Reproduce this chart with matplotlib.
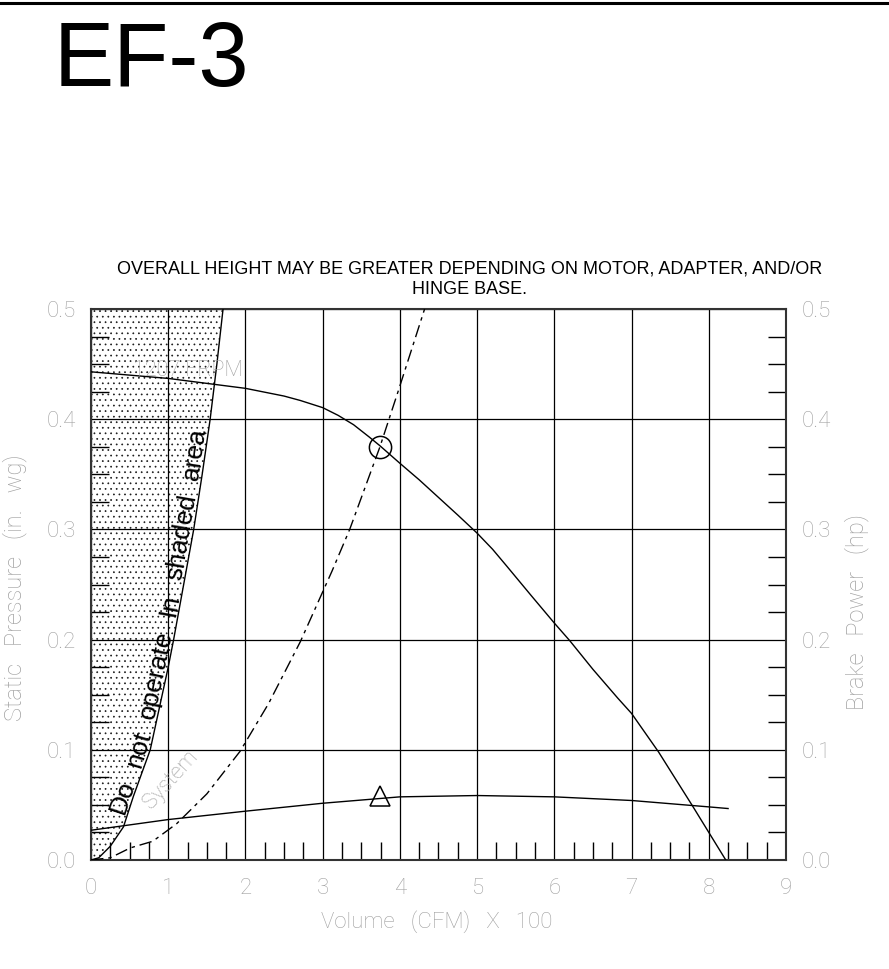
import matplotlib
matplotlib.use('Agg')
import numpy as np
import matplotlib.pyplot as plt
from matplotlib.lines import Line2D
from matplotlib.ticker import MultipleLocator, FixedLocator

# ---------------- data ----------------
fan_cfm = [0, 1, 2, 2.5, 2.71, 3.0, 3.2, 3.4, 3.6, 3.74, 4.0, 4.25, 4.5, 4.75, 5.0, 5.2, 5.38,
           5.7, 6.0, 6.2, 6.5, 6.82, 7.0, 7.23, 7.35, 7.79, 8.22]
fan_sp = [0.443, 0.437, 0.428, 0.421, 0.417, 0.4105, 0.4035, 0.395, 0.384, 0.376, 0.360, 0.345,
          0.329, 0.313, 0.2966, 0.282, 0.267, 0.240, 0.215, 0.199, 0.173, 0.147, 0.133, 0.110,
          0.098, 0.049, 0.0]

bhp_cfm = [0, 1, 2, 2.71, 3, 4, 5, 6, 7, 8, 8.25]
bhp_hp = [0.027, 0.0367, 0.0443, 0.0494, 0.0515, 0.0573, 0.0585, 0.0573, 0.054, 0.0482, 0.0467]

sys_cfm = [0, 0.25, 0.51, 0.8, 1.11, 1.5, 1.93, 2.3, 2.71, 3.12, 3.35, 3.74, 3.99, 4.32]
sys_sp = [0, 0.002, 0.011, 0.017, 0.033, 0.060, 0.0986, 0.142, 0.198, 0.262, 0.300, 0.3746, 0.428, 0.500]

stall_cfm = [0, 0.1, 0.25, 0.42, 0.55, 0.767, 1.0, 1.07, 1.2, 1.33, 1.44, 1.543, 1.63, 1.71]
stall_sp = [0, 0.002, 0.0125, 0.030, 0.058, 0.100, 0.175, 0.200, 0.250, 0.300, 0.350, 0.400, 0.450, 0.500]

op_cfm = [3.74]
op_sp = [0.3746]
op_hp = [0.0579]

x_ticks = [0, 1, 2, 3, 4, 5, 6, 7, 8, 9]
x_tick_labels = ['0', '1', '2', '3', '4', '5', '6', '7', '8', '9']
y_ticks = [0.0, 0.1, 0.2, 0.3, 0.4, 0.5]
y_tick_labels = ['0.0', '0.1', '0.2', '0.3', '0.4', '0.5']

warn_words = ['Do', 'not', 'operate', 'In', 'shaded', 'area']
warn_start_sp = 0.040

title = 'EF-3'
note = 'OVERALL HEIGHT MAY BE GREATER DEPENDING ON MOTOR, ADAPTER, AND/OR\nHINGE BASE.'
rpm_label = '1207 FRPM'
system_label = 'System'
ylabel_left = 'Static   Pressure   (in.   wg)'
ylabel_right = 'Brake   Power   (hp)'
xlabel = 'Volume   (CFM)   X   100'

# ---------------- figure ----------------
W, H = 889, 969
fig = plt.figure(figsize=(W / 100, H / 100), dpi=100)
fig.patch.set_facecolor('white')

GRAY = '#a0a0a0'
LIGHT_FAM = ['Roboto', 'DejaVu Sans']

# top rule
fig.add_artist(Line2D([0, 1], [1 - 2.5 / H, 1 - 2.5 / H], transform=fig.transFigure,
                      color='black', lw=2.2))

fig.text(54 / W, 1 - 86 / H, title, fontsize=65, family='Liberation Sans',
         ha='left', va='baseline', color='black')
fig.text(470 / W, 1 - 294 / H, note, fontsize=13, family='Liberation Sans',
         ha='center', va='baseline', color='black', linespacing=1.3, multialignment='center')

left, right, top, bottom = 91, 786, 309, 860
ax = fig.add_axes([left / W, 1 - bottom / H, (right - left) / W, (bottom - top) / H])
ax.set_xlim(0, 9)
ax.set_ylim(0, 0.5)

plt.rcParams['hatch.linewidth'] = 0.5
ax.fill_betweenx(stall_sp, 0, stall_cfm, facecolor='none', edgecolor='#1a1a1a',
                 hatch='...', linewidth=0, zorder=1)

ax.xaxis.set_major_locator(FixedLocator(x_ticks))
ax.set_xticklabels(x_tick_labels)
ax.yaxis.set_major_locator(FixedLocator(y_ticks))
ax.set_yticklabels(y_tick_labels)
ax.xaxis.set_minor_locator(MultipleLocator(0.25))
ax.yaxis.set_minor_locator(MultipleLocator(0.025))
ax.grid(which='major', color='black', lw=0.9, zorder=2)

ax.tick_params(which='major', length=0, labelsize=16, labelcolor=GRAY)
ax.tick_params(axis='x', which='major', pad=13)
ax.tick_params(axis='y', which='major', pad=11, labelright=True, right=True)
ax.tick_params(which='minor', direction='in', length=13, width=1, color='black',
               top=False, right=True, left=True, bottom=True)
for lab in ax.get_xticklabels() + ax.get_yticklabels():
    lab.set_fontfamily(LIGHT_FAM)
    lab.set_fontweight('light')
for t in ax.yaxis.get_major_ticks():
    t.label2.set_fontfamily(LIGHT_FAM)
    t.label2.set_fontweight('light')
for sp in ax.spines.values():
    sp.set_color('#333333')
    sp.set_linewidth(1.5)

# curves
ax.plot(stall_cfm, stall_sp, color='black', lw=1.0, zorder=3)
ax.plot(fan_cfm, fan_sp, color='black', lw=1.0, zorder=3)
ax.plot(bhp_cfm, bhp_hp, color='black', lw=1.0, zorder=3)
ax.plot(sys_cfm, sys_sp, color='black', lw=1.0, linestyle=(0, (9, 3.5, 2.5, 3.5)), zorder=3)
ax.plot(op_cfm, op_sp, marker='o', markersize=16, markerfacecolor='none',
        markeredgecolor='black', markeredgewidth=1.1, linestyle='none', zorder=4)
ax.plot(op_cfm, op_hp, marker='^', markersize=14, markerfacecolor='none',
        markeredgecolor='black', markeredgewidth=1.1, linestyle='none', zorder=4)

# annotations
ax.text(0.55, 0.4438, rpm_label, fontsize=15.5, va='center', ha='left',
        family=LIGHT_FAM, weight='light', color=GRAY, zorder=5)
ax.text(1.03, 0.073, system_label, fontsize=15.5, va='center', ha='center', rotation=48,
        rotation_mode='anchor', family=LIGHT_FAM, weight='light', color=GRAY, zorder=5)

# warning text set along the stall line
fig.canvas.draw()
renderer = fig.canvas.get_renderer()
pts = ax.transData.transform(np.column_stack([stall_cfm, stall_sp]))
seg = np.diff(pts, axis=0)
seglen = np.hypot(seg[:, 0], seg[:, 1])
cum = np.concatenate([[0], np.cumsum(seglen)])


def point_at(s):
    i = int(np.clip(np.searchsorted(cum, s) - 1, 0, len(seglen) - 1))
    t = (s - cum[i]) / seglen[i]
    return pts[i] + t * seg[i]


WFS = 19
y0 = ax.transData.transform((0, warn_start_sp))[1]
s = float(np.interp(y0, pts[:, 1], cum))
gap = 15
offset = 3
inv = ax.transData.inverted()
for w in warn_words:
    tmp = ax.text(0, 0, w, fontsize=WFS, family='Liberation Sans')
    wid = tmp.get_window_extent(renderer=renderer).width
    tmp.remove()
    p1, p2 = point_at(s), point_at(s + wid)
    d = (p2 - p1) / np.hypot(*(p2 - p1))
    nrm = np.array([-d[1], d[0]])
    anchor = (p1 + p2) / 2 + nrm * offset
    ang = np.degrees(np.arctan2(d[1], d[0]))
    xd, yd = inv.transform(anchor)
    ax.text(xd, yd, w, fontsize=WFS, family='Liberation Sans', color='black',
            ha='center', va='baseline', rotation=ang, rotation_mode='anchor', zorder=5)
    s += wid + gap

# axis titles
fig.text(15 / W, 1 - 588 / H, ylabel_left, rotation=90, fontsize=17,
         ha='center', va='center', family=LIGHT_FAM, weight='light', color=GRAY)
fig.text(857 / W, 1 - 612 / H, ylabel_right, rotation=90, fontsize=17,
         ha='center', va='center', family=LIGHT_FAM, weight='light', color=GRAY)
fig.text(437 / W, 1 - 928 / H, xlabel, fontsize=16,
         ha='center', va='baseline', family=LIGHT_FAM, weight='light', color=GRAY)

fig.savefig('out.png', dpi=100, facecolor='white')
